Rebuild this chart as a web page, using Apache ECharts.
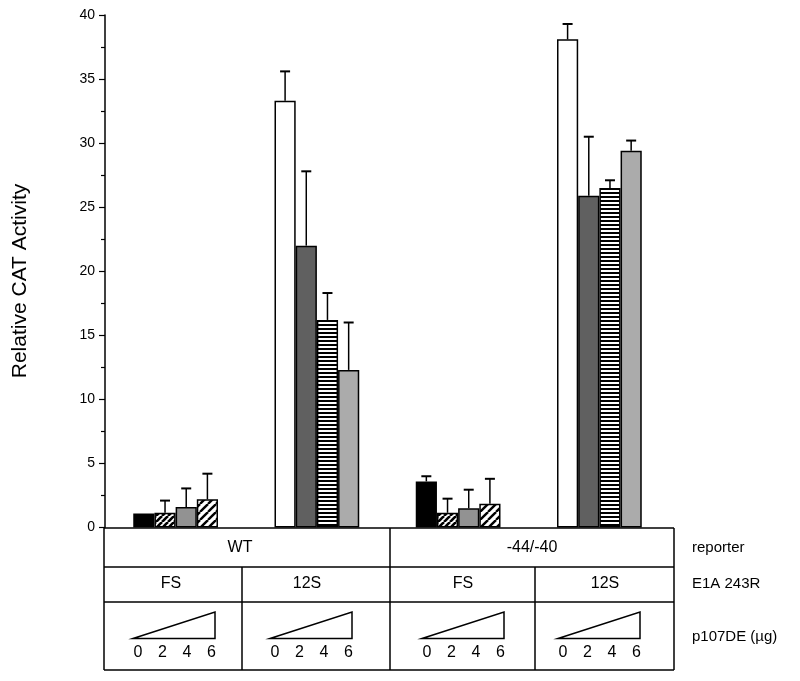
<!DOCTYPE html>
<html>
<head>
<meta charset="utf-8">
<script src="https://cdn.jsdelivr.net/npm/echarts@6/dist/echarts.min.js"></script>
<style>html,body{margin:0;padding:0;background:#fff}#c{width:800px;height:681px}</style>
</head>
<body>
<div id="c"></div>
<script>
// ---- data ----
const groups = ['WT FS', 'WT 12S', '-44/-40 FS', '-44/-40 12S'];
const dose0 = [1.1, 33.3, 3.6, 38.1];
const dose2 = [1.15, 22.0, 1.15, 25.9];
const dose4 = [1.6, 16.2, 1.5, 26.5];
const dose6 = [2.2, 12.3, 1.85, 29.4];
const err0 = [null, 35.6, 4.0, 39.3];
const err2 = [2.1, 27.8, 2.25, 30.5];
const err4 = [3.05, 18.3, 2.95, 27.1];
const err6 = [4.2, 16.0, 3.8, 30.2];
const yTicks = [0, 5, 10, 15, 20, 25, 30, 35, 40];
const reporterLabels = ['WT', '-44/-40'];
const e1aLabels = ['FS', '12S', 'FS', '12S'];
const doseLabels = ['0', '2', '4', '6'];
const rowLabels = ['reporter', 'E1A 243R', 'p107DE (\u00b5g)'];

// ---- patterns ----
function pat(w, h, draw) {
  const c = document.createElement('canvas');
  c.width = w; c.height = h;
  const g = c.getContext('2d');
  g.fillStyle = '#fff'; g.fillRect(0, 0, w, h);
  g.fillStyle = '#000'; g.strokeStyle = '#000';
  draw(g, w, h);
  return { image: c, repeat: 'repeat' };
}
function hatch(size, lw) {
  return pat(size, size, (g, w, h) => {
    g.lineWidth = lw;
    for (let k = -1; k <= 1; k++) {
      g.beginPath(); g.moveTo(k * w, h); g.lineTo(k * w + w, 0); g.stroke();
    }
  });
}
const pSolid = '#000';
const pWhite = '#fff';
const pHatchA = hatch(6, 2.6);
const pHatchB = hatch(8, 2.4);
const pGray = '#929292';
const pDark = '#606060';
const pLight = '#ababab';
const pStripe = pat(4, 4, (g) => { g.fillRect(0, 0, 4, 2); });

// fills per series for FS groups and 12S groups
const fillsFS = [pSolid, pHatchA, pGray, pHatchB];
const fills12S = [pWhite, pDark, pStripe, pLight];

const values = [dose0, dose2, dose4, dose6];
const errs = [err0, err2, err4, err6];

const series = [];
values.forEach((vals, i) => {
  series.push({
    type: 'bar',
    name: 'dose ' + doseLabels[i],
    barGap: '0%',
    barCategoryGap: '40%',
    z: 2,
    data: vals.map((v, k) => ({
      value: v,
      itemStyle: { color: (k % 2 === 0 ? fillsFS : fills12S)[i], borderColor: '#000', borderWidth: 1.5 }
    }))
  });
});
errs.forEach((es, i) => {
  series.push({
    type: 'custom',
    z: 5,
    data: es.map((e, k) => [k, values[i][k], e == null ? '-' : e]),
    encode: { x: 0, y: 2 },
    renderItem: (params, api) => {
      const cat = api.value(0), v = api.value(1), e = api.value(2);
      if (e == null || isNaN(e)) return null;
      const band = api.size([1, 0])[0];
      const bw = band * 0.6 / 4;
      const off = (i - 1.5) * bw;
      const top = api.coord([cat, e]);
      const base = api.coord([cat, v]);
      const x = top[0] + off;
      return {
        type: 'group',
        children: [
          { type: 'line', shape: { x1: x, y1: base[1], x2: x, y2: top[1] }, style: { stroke: '#000', lineWidth: 1.5 } },
          { type: 'line', shape: { x1: x - 5, y1: top[1], x2: x + 5, y2: top[1] }, style: { stroke: '#000', lineWidth: 2 } }
        ]
      };
    }
  });
});

// ---- table graphics ----
const FONT = '"Liberation Sans", Arial, Helvetica, sans-serif';
const T = { left: 104, right: 674, top: 528, r1: 567, r2: 602, bottom: 670, mid: 390, c1: 242, c3: 535 };
const G = [];
const ln = (x1, y1, x2, y2) => G.push({ type: 'line', z: 10, shape: { x1, y1, x2, y2 }, style: { stroke: '#000', lineWidth: 1.5 } });
const tx = (text, x, y, size, align) => G.push({ type: 'text', z: 10, x, y, style: { text, fill: '#000', font: size + 'px ' + FONT, textAlign: align || 'center', textVerticalAlign: 'middle' } });
ln(T.left, T.top, T.right, T.top);
ln(T.left, T.bottom, T.right, T.bottom);
ln(T.left, T.top, T.left, T.bottom);
ln(T.right, T.top, T.right, T.bottom);
ln(T.left, T.r1, T.right, T.r1);
ln(T.left, T.r2, T.right, T.r2);
ln(T.mid, T.top, T.mid, T.bottom);
ln(T.c1, T.r1, T.c1, T.bottom);
ln(T.c3, T.r1, T.c3, T.bottom);
tx(reporterLabels[0], 240, 548, 16);
tx(reporterLabels[1], 532, 548, 16);
const cellL = [T.left, T.c1, T.mid, T.c3];
const e1aX = [171, 307, 463, 605];
e1aLabels.forEach((l, k) => tx(l, e1aX[k], 584, 16));
const triOff = [29, 28, 32, 23];
cellL.forEach((cl, k) => {
  const x0 = cl + triOff[k], x1 = x0 + 82;
  G.push({ type: 'polygon', z: 10, shape: { points: [[x0, 638.5], [x1, 612], [x1, 638.5]] }, style: { fill: '#fff', stroke: '#000', lineWidth: 1.5 } });
  doseLabels.forEach((d, j) => tx(d, x0 + 5 + j * 24.5, 653, 16));
});
tx(rowLabels[0], 692, 548, 15, 'left');
tx(rowLabels[1], 692, 584, 15, 'left');
tx(rowLabels[2], 692, 637, 15, 'left');
G.push({ type: 'text', z: 10, x: 20, y: 281, rotation: Math.PI / 2, style: { text: 'Relative CAT Activity', fill: '#000', font: '21px ' + FONT, textAlign: 'center', textVerticalAlign: 'middle' } });

const chart = echarts.init(document.getElementById('c'), null, { renderer: 'canvas' });
chart.setOption({
  animation: false,
  backgroundColor: '#fff',
  grid: { left: 105, right: 130, top: 15, bottom: 153.5, containLabel: false },
  xAxis: {
    type: 'category', data: groups,
    axisLine: { show: false }, axisTick: { show: false }, axisLabel: { show: false }
  },
  yAxis: {
    type: 'value', min: yTicks[0], max: yTicks[yTicks.length - 1], interval: 5,
    axisLine: { show: true, lineStyle: { color: '#000', width: 1.5 } },
    axisTick: { show: true, length: 6, lineStyle: { color: '#000', width: 1.2 } },
    minorTick: { show: true, splitNumber: 2, length: 4, lineStyle: { color: '#000', width: 1.2 } },
    splitLine: { show: false },
    axisLabel: { color: '#000', fontSize: 14, fontFamily: FONT, margin: 10 }
  },
  series: series,
  graphic: G
});
</script>
</body>
</html>
